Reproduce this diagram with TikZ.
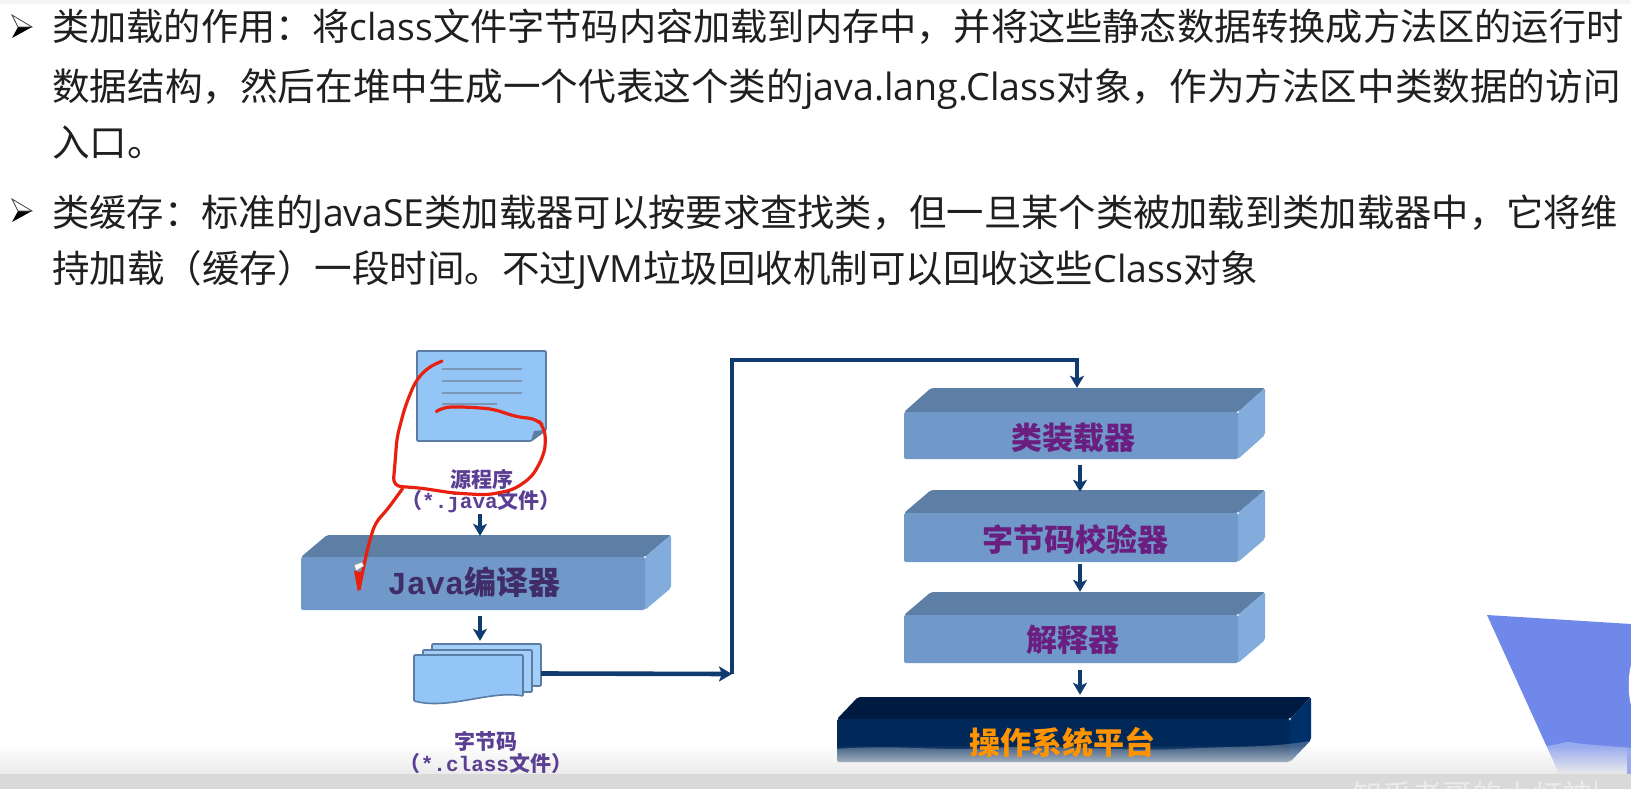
\documentclass[tikz,border=0pt]{standalone}
\usepackage{fontspec}
\setmainfont{Noto Sans CJK SC}
\newfontfamily\monofam{Liberation Mono}
\newfontfamily\latfam{Open Sans}
\usetikzlibrary{arrows.meta,fit,fadings,calc}
\definecolor{slabF}{HTML}{7099C9}
\definecolor{slabT}{HTML}{5D7FA6}
\definecolor{slabR}{HTML}{82ACDC}
\definecolor{pagefill}{HTML}{93C5F6}
\definecolor{pageedge}{HTML}{5B7CA5}
\definecolor{navy}{HTML}{0F3B70}
\definecolor{labA}{HTML}{5B3F93}
\definecolor{labB}{HTML}{6A1F80}
\definecolor{inkred}{HTML}{E8200F}
\definecolor{wedge}{HTML}{7088EA}
\tikzset{
  bodytext/.style={anchor=base west,inner sep=0pt,text=black!88,font=\fontsize{37.5}{37.5}\selectfont},
  flow/.style={draw=navy,line width=3.4pt,-{Stealth[length=12pt,width=14pt,inset=3pt]}},
  flowline/.style={draw=navy,line width=4pt},
  lab/.style={inner sep=0pt,text=labB,font=\bfseries\fontsize{31}{31}\selectfont},
  smalllab/.style={inner sep=0pt,text=labA,font=\bfseries\fontsize{21}{21}\selectfont},
  docline/.style={draw=pageedge!80,line width=1.2pt},
  sheet/.style={fill=pagefill,draw=pageedge,line width=1.6pt,rounded corners=1pt},
  ink/.style={draw=inkred,line width=3.2pt,line cap=round,line join=round,rounded corners=8pt},
  bullet/.style={fill=black},
  bullettop/.style={fill=white,draw=black!75,line width=0.7pt},
}
% name, x1, x2, front top, front bottom, dx, dy
\newcommand\slab[7]{%
  \fill[slabT,rounded corners=2pt] (#2,#4) -- ({#2+#6},{#4-#7}) -- ({#3+#6},{#4-#7}) -- (#3,#4) -- cycle;
  \fill[slabR,rounded corners=2pt] (#3,#4) -- ({#3+#6},{#4-#7}) -- ({#3+#6},{#5-#7+0}) -- (#3,#5) -- cycle;
  \fill[slabF,rounded corners=2pt] (#2,#4) rectangle (#3,#5);
  \node[fit={(#2,{#4-#7}) ({#3+#6},#5)},inner sep=0pt] (#1) {};
}
\newcommand\bulletmark[2]{%
  \fill[bullet] (#1,#2) -- ({#1+20},{#2+12}) -- (#1,{#2+23}) -- ({#1+6},{#2+12}) -- cycle;
  \fill[bullettop] (#1,#2) -- ({#1+20},{#2+12}) -- ({#1+6},{#2+12}) -- cycle;
}
\begin{document}
\begin{tikzpicture}[x=1pt,y=-1pt]
\useasboundingbox (0,0) rectangle (1631,789);
\fill[white] (0,0) rectangle (1631,789);
\fill[black!4] (0,0) rectangle (1631,4);

% bullet text
\bulletmark{12}{15}
\bulletmark{12}{199}
\node[bodytext,font=\fontsize{37.2}{37.2}\selectfont] (t1) at (52,41) {类加载的作用：将{\latfam class}文件字节码内容加载到内存中，并将这些静态数据转换成方法区的运行时};
\node[bodytext,font=\fontsize{37.6}{37.6}\selectfont] (t2) at (52,101) {数据结构，然后在堆中生成一个代表这个类的{\latfam java.lang.Class}对象，作为方法区中类数据的访问};
\node[bodytext] (t3) at (52,157) {入口。};
\node[bodytext,font=\fontsize{37.3}{37.3}\selectfont] (t4) at (52,226) {类缓存：标准的{\latfam JavaSE}类加载器可以按要求查找类，但一旦某个类被加载到类加载器中，它将维};
\node[bodytext] (t5) at (52,282) {持加载（缓存）一段时间。不过{\latfam JVM}垃圾回收机制可以回收这些{\latfam Class}对象};

% source document
\path[sheet] (417,351) -- (546,351) -- (546,430) -- (531,441) -- (417,441) -- cycle;
\fill[pageedge] (531,441) -- (534,431) -- (546,430) -- cycle;
\node[fit={(417,351) (546,441)},inner sep=0pt] (srcdoc) {};
\draw[docline] (442,369) -- (522,369);
\draw[docline] (442,381) -- (522,381);
\draw[docline] (442,393) -- (522,393);
\draw[docline] (442,404) -- (497,404);
\node[smalllab] (srcname) at (482,479) {源程序};
\node[smalllab] (srcext) at (481,502) {（{\monofam *.java}文件）};

% Java compiler
\slab{javac}{301}{645}{557}{610}{26}{22}
\node[lab,text=labA!70!black,font=\bfseries\fontsize{32}{32}\selectfont] (javactext) at (474,582) {{\monofam Java}编译器};

% class files
\path[sheet,fill=pagefill!85!white] (432,644) rectangle (541,686);
\path[sheet,fill=pagefill!85!white] (423,650) rectangle (532,692);
\path[sheet] (414,655) -- (523,655) -- (523,696) .. controls (490,690) and (450,710) .. (414,701) -- cycle;
\node[fit={(414,644) (541,703)},inner sep=0pt] (classfiles) {};

% right column
\slab{loader}{904}{1238}{412}{459}{27}{24}
\slab{verifier}{904}{1238}{513}{562}{27}{23}
\slab{interp}{904}{1238}{615}{663}{27}{23}
\definecolor{slabF}{HTML}{00295A}
\definecolor{slabT}{HTML}{001B42}
\definecolor{slabR}{HTML}{00306A}
\slab{osplat}{837}{1290}{719}{762}{21}{22}
\fill[white,opacity=.24] (837,749) .. controls (900,744) and (940,752) .. (990,748) .. controls (1060,744) and (1120,752) .. (1180,749) .. controls (1230,746) and (1270,748) .. (1310,741) -- (1290,762) -- (837,762) -- cycle;
\node[lab] (t-loader) at (1073,438) {类装载器};
\node[lab] (t-verifier) at (1075,540) {字节码校验器};
\node[lab] (t-interp) at (1073,640) {解释器};

% connectors
\coordinate (junction) at (732,674);
\coordinate (turnA) at (732,360);
\coordinate (turnB) at (1077,360);
\draw[flow] (srcext.south) ++(-1,1) -- ($(srcext.south |- javac.north)+(-1,1)$);
\draw[flow] ($(srcext.south |- javac.south)+(-1,6)$) -- ($(srcext.south |- classfiles.north)+(-1,-3)$);
\draw[flow,line width=4.6pt,-{Stealth[length=13pt,width=15pt,inset=3pt]}] (classfiles.east) -- (junction);
\draw[flowline,line join=miter] (junction) -- (turnA) -- (turnB) -- (1077,366);
\draw[flow] (turnB) -- (turnB |- loader.north);
\draw[flow] ($(loader.south -| turnB)+(3,6)$) -- ($(verifier.north -| turnB)+(3,2)$);
\draw[flow] ($(verifier.south -| turnB)+(3,2)$) -- ($(interp.north -| turnB)+(3,0)$);
\draw[flow] ($(interp.south -| turnB)+(3,7)$) -- ($(osplat.north -| turnB)+(3,-2)$);

% red annotation
\draw[ink] (442,361) -- (427,368) -- (415,382) -- (405,407) -- (397,437) -- (395,463) -- (393,486) -- (420,488) -- (453,493) -- (487,495) -- (513,490) -- (532,477) -- (543,457) -- (546,443) -- (544,427) -- (537,419) -- (517,417) -- (493,409) -- (467,407) -- (443,407) -- (437,411);
\draw[ink,line cap=butt] (403,488) -- (387,510) -- (375,523) -- (368,547) -- (363,570) -- (359,590);
\fill[inkred] (354,571) -- (364,572) -- (358,592) -- cycle;
\fill[white,draw=black!50,line width=.5pt] (354,565) -- (362,562) -- (364,566) -- (356,571) -- cycle;

% bottom right wedge
\fill[wedge] (1487,615) -- (1631,624) -- (1631,789) -- (1566,789) -- cycle;
\fill[white] (1631,665) .. controls (1628,675) and (1628,695) .. (1631,705) -- cycle;
\fill[white,opacity=.28] (1545,746) .. controls (1560,745) and (1565,740) .. (1575,743) .. controls (1590,745) and (1610,746) .. (1631,748) -- (1631,789) -- (1560,789) -- cycle;

% bottom fade of the video frame
\fill[black!8,path fading=north] (0,745) rectangle (1631,774);
\fill[black!15] (0,774) rectangle (1631,789);
\node[smalllab] (clsname) at (486,741) {字节码};
\node[smalllab] (clsext) at (486,763) {（{\monofam *.class}文件）};
\node[lab,text=orange!85!yellow] (t-os) at (1062,743) {操作系统平台};
\begin{scope}
\clip (0,0) rectangle (1631,789);
\node[inner sep=0pt,anchor=base west,text=white!92!black,font=\fontsize{30}{30}\selectfont] (mark) at (1352,806) {知乎老哥的小灯神|};
\end{scope}
\end{tikzpicture}
\end{document}
